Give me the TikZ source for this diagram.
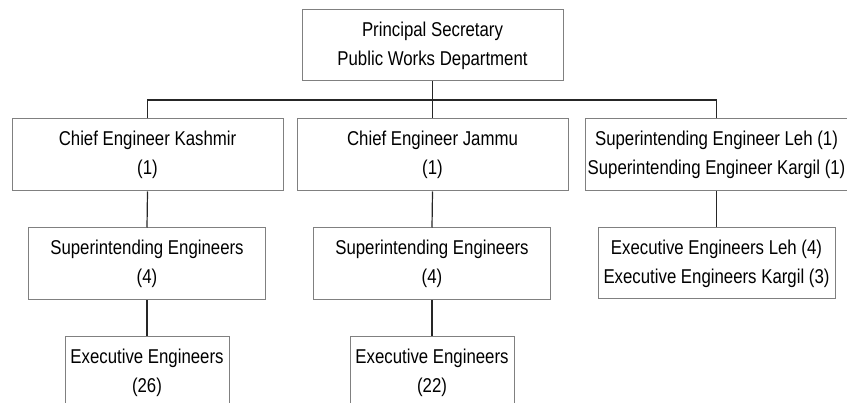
\documentclass[tikz,border=0pt]{standalone}
\usepackage{fontspec}
\setmainfont{Liberation Sans}[FakeStretch=0.84]
\usepackage{tikz}
\usetikzlibrary{calc}

\tikzset{
  post/.style={draw=black!50, line width=1pt, align=center, inner sep=0pt,
    font=\fontsize{20}{29}\selectfont},
  link/.style={draw=black!85, line width=1.2pt}
}

\begin{document}
\begin{tikzpicture}[x=1pt, y=-1pt]
    \useasboundingbox (0,0) rectangle (847,403);
    \begin{scope}
      \clip (0,0) rectangle (847,403);

      \node[post, minimum width=261pt, minimum height=71pt] (secy) at (432.5,45.5)
        {Principal Secretary\\Public Works Department};

      \node[post, minimum width=271pt, minimum height=72pt] (ceK) at (147.5,155)
        {Chief Engineer Kashmir\\(1)};
      \node[post, minimum width=271pt, minimum height=72pt] (ceJ) at (432.5,155)
        {Chief Engineer Jammu\\(1)};
      \node[post, minimum width=262pt, minimum height=72pt] (seLK) at (716.5,155)
        {Superintending Engineer Leh (1)\\Superintending Engineer Kargil (1)};

      \node[post, minimum width=237pt, minimum height=72pt] (seK) at (147,264)
        {Superintending Engineers\\(4)};
      \node[post, minimum width=237pt, minimum height=72pt] (seJ) at (432,264)
        {Superintending Engineers\\(4)};
      \node[post, minimum width=237pt, minimum height=71pt] (eeLK) at (716.5,263.5)
        {Executive Engineers Leh (4)\\Executive Engineers Kargil (3)};

      \node[post, minimum width=164pt, minimum height=71pt] (eeK) at (147,372.5)
        {Executive Engineers\\(26)};
      \node[post, minimum width=164pt, minimum height=71pt] (eeJ) at (432,372.5)
        {Executive Engineers\\(22)};

      \coordinate (bus) at (432.5,100);
      \draw[link] (secy.south) -- (ceJ.north);
      \draw[link] (ceK.north) |- (bus) -| (seLK.north);
      \draw[link] (ceK.south) -- (seK.north);
      \draw[link] (ceJ.south) -- (seJ.north);
      \draw[link] (seLK.south) -- (eeLK.north);
      \draw[link] (seK.south) -- (eeK.north);
      \draw[link] (seJ.south) -- (eeJ.north);
    \end{scope}

    % \draw[help lines, step=50] (0,0) grid (847,403);
\end{tikzpicture}
\end{document}
